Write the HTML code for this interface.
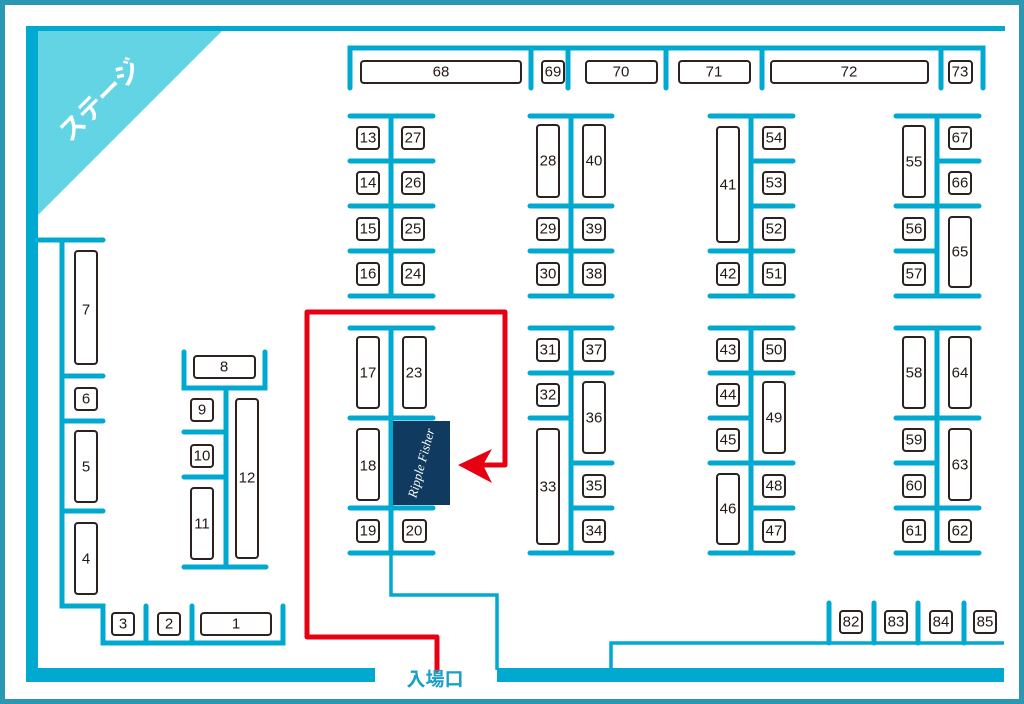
<!DOCTYPE html>
<html><head><meta charset="utf-8"><style>
html,body{margin:0;padding:0;background:#fff;}
svg{display:block;}
.b{fill:#fff;stroke:#2b211e;stroke-width:2;}
.t{font-family:"Liberation Sans",sans-serif;font-size:15px;fill:#231815;text-anchor:middle;dominant-baseline:central;}
.w{stroke:#00a9cf;stroke-width:5;stroke-linecap:round;fill:none;}
.tn{stroke:#00a9cf;stroke-width:3.5;fill:none;}
</style></head><body>
<svg width="1024" height="704" viewBox="0 0 1024 704" xmlns="http://www.w3.org/2000/svg">
<rect x="2.5" y="2.5" width="1019" height="699" fill="#fff" stroke="#2a97b3" stroke-width="5"/>
<rect x="26" y="26" width="12" height="656" fill="#00a9cf"/>
<rect x="26" y="26" width="979" height="5" fill="#00a9cf"/>
<rect x="26" y="668" width="349" height="14" fill="#00a9cf"/>
<rect x="497" y="668" width="507" height="14" fill="#00a9cf"/>
<polygon points="38,31 222,31 38,215" fill="#62d4e4"/>
<text x="100" y="100" transform="rotate(-45 100 100)" font-family="'Liberation Sans','Noto Sans CJK JP',sans-serif" font-size="26" font-weight="bold" fill="#fff" text-anchor="middle" dominant-baseline="central">ステージ</text>

<path class="w" d="M350,88 V48 H983 V88 M531,48 V88 M568,48 V88 M666,48 V88 M762,48 V88 M941,48 V88"/>

<path class="w" d="M38,240 H103 M62,240 V606 H103 V643 H283 V606 M146,643 V606 M192,643 V606 M62,376 H103 M62,421 H103 M62,511 H103"/>
<path class="w" d="M184,352 V388 H265 V352 M226,388 V567 M184,432 H226 M184,477 H226 M184,567 H266"/>

<path class="w" d="M391,116 V296 M350,116 H433 M350,161 H433 M350,206 H433 M350,251 H433 M350,296 H433"/>
<path class="w" d="M391,328 V553 M350,328 H433 M350,418 H433 M350,508 H433 M350,553 H433"/>
<path class="tn" d="M391,553 V595 H497 V670"/>
<path class="w" d="M571,116 V296 M530,116 H612 M530,206 H612 M530,251 H612 M530,296 H612"/>
<path class="w" d="M571,328 V553 M530,328 H612 M530,373 H612 M530,418 H571 M571,463 H612 M571,508 H612 M530,553 H612"/>
<path class="w" d="M751,116 V296 M710,116 H793 M751,161 H793 M751,206 H793 M710,251 H793 M710,296 H793"/>
<path class="w" d="M751,328 V553 M710,328 H793 M710,373 H793 M710,418 H751 M710,463 H793 M751,508 H793 M710,553 H793"/>
<path class="w" d="M937,116 V296 M896,116 H979 M937,161 H979 M896,206 H979 M896,251 H937 M896,296 H979"/>
<path class="w" d="M937,328 V553 M896,328 H979 M896,418 H979 M896,463 H937 M896,508 H979 M896,553 H979"/>

<path class="tn" d="M611,668 V643 H1004"/>
<path class="w" d="M829,643 V603 M874,643 V603 M918,643 V603 M964,643 V603"/>

<path d="M437,670 V637 H307 V312 H505 V465 H480" fill="none" stroke="#e60012" stroke-width="5" stroke-linejoin="round" stroke-linecap="round"/>
<polygon points="458,465 492,449 483,465 492,483" fill="#e60012"/>

<rect x="393" y="421" width="57" height="84" fill="#103a5f"/>
<text x="421" y="463" transform="rotate(-75 421 463)" font-family="'Liberation Serif',serif" font-style="italic" font-size="13" fill="#fff" text-anchor="middle" dominant-baseline="central">Ripple Fisher</text>

<g>
<rect class="b" x="361" y="61" width="160" height="22" rx="3"/><text class="t" x="441" y="72">68</text>
<rect class="b" x="542" y="61" width="22" height="22" rx="3"/><text class="t" x="553" y="72">69</text>
<rect class="b" x="586" y="61" width="71" height="22" rx="3"/><text class="t" x="621" y="72">70</text>
<rect class="b" x="679" y="61" width="71" height="22" rx="3"/><text class="t" x="714" y="72">71</text>
<rect class="b" x="771" y="61" width="157" height="22" rx="3"/><text class="t" x="849" y="72">72</text>
<rect class="b" x="949" y="61" width="23" height="22" rx="3"/><text class="t" x="960" y="72">73</text>

<rect class="b" x="357" y="127" width="22" height="22" rx="3"/><text class="t" x="368" y="138">13</text>
<rect class="b" x="402" y="127" width="22" height="22" rx="3"/><text class="t" x="413" y="138">27</text>
<rect class="b" x="357" y="172" width="22" height="22" rx="3"/><text class="t" x="368" y="183">14</text>
<rect class="b" x="402" y="172" width="22" height="22" rx="3"/><text class="t" x="413" y="183">26</text>
<rect class="b" x="357" y="218" width="22" height="22" rx="3"/><text class="t" x="368" y="229">15</text>
<rect class="b" x="402" y="218" width="22" height="22" rx="3"/><text class="t" x="413" y="229">25</text>
<rect class="b" x="357" y="263" width="22" height="22" rx="3"/><text class="t" x="368" y="274">16</text>
<rect class="b" x="402" y="263" width="22" height="22" rx="3"/><text class="t" x="413" y="274">24</text>

<rect class="b" x="357" y="337" width="22" height="71" rx="3"/><text class="t" x="368" y="373">17</text>
<rect class="b" x="403" y="337" width="23" height="71" rx="3"/><text class="t" x="414" y="373">23</text>
<rect class="b" x="357" y="429" width="22" height="71" rx="3"/><text class="t" x="368" y="466">18</text>
<rect class="b" x="357" y="520" width="22" height="22" rx="3"/><text class="t" x="368" y="531">19</text>
<rect class="b" x="403" y="520" width="23" height="22" rx="3"/><text class="t" x="414" y="531">20</text>

<rect class="b" x="537" y="125" width="22" height="72" rx="3"/><text class="t" x="548" y="161">28</text>
<rect class="b" x="583" y="125" width="22" height="72" rx="3"/><text class="t" x="594" y="161">40</text>
<rect class="b" x="537" y="218" width="22" height="22" rx="3"/><text class="t" x="548" y="229">29</text>
<rect class="b" x="583" y="218" width="22" height="22" rx="3"/><text class="t" x="594" y="229">39</text>
<rect class="b" x="537" y="263" width="22" height="22" rx="3"/><text class="t" x="548" y="274">30</text>
<rect class="b" x="583" y="263" width="22" height="22" rx="3"/><text class="t" x="594" y="274">38</text>
<rect class="b" x="537" y="339" width="22" height="22" rx="3"/><text class="t" x="548" y="350">31</text>
<rect class="b" x="583" y="339" width="22" height="22" rx="3"/><text class="t" x="594" y="350">37</text>
<rect class="b" x="537" y="384" width="22" height="22" rx="3"/><text class="t" x="548" y="395">32</text>
<rect class="b" x="583" y="382" width="22" height="71" rx="3"/><text class="t" x="594" y="418">36</text>
<rect class="b" x="537" y="429" width="22" height="115" rx="3"/><text class="t" x="548" y="487">33</text>
<rect class="b" x="583" y="475" width="22" height="22" rx="3"/><text class="t" x="594" y="486">35</text>
<rect class="b" x="583" y="520" width="22" height="22" rx="3"/><text class="t" x="594" y="531">34</text>

<rect class="b" x="717" y="127" width="22" height="115" rx="3"/><text class="t" x="728" y="185">41</text>
<rect class="b" x="763" y="127" width="22" height="22" rx="3"/><text class="t" x="774" y="138">54</text>
<rect class="b" x="763" y="172" width="22" height="22" rx="3"/><text class="t" x="774" y="183">53</text>
<rect class="b" x="763" y="218" width="22" height="22" rx="3"/><text class="t" x="774" y="229">52</text>
<rect class="b" x="717" y="263" width="22" height="22" rx="3"/><text class="t" x="728" y="274">42</text>
<rect class="b" x="763" y="263" width="22" height="22" rx="3"/><text class="t" x="774" y="274">51</text>
<rect class="b" x="717" y="339" width="22" height="22" rx="3"/><text class="t" x="728" y="350">43</text>
<rect class="b" x="763" y="339" width="22" height="22" rx="3"/><text class="t" x="774" y="350">50</text>
<rect class="b" x="717" y="384" width="22" height="22" rx="3"/><text class="t" x="728" y="395">44</text>
<rect class="b" x="763" y="382" width="22" height="71" rx="3"/><text class="t" x="774" y="418">49</text>
<rect class="b" x="717" y="429" width="22" height="22" rx="3"/><text class="t" x="728" y="440">45</text>
<rect class="b" x="717" y="474" width="22" height="70" rx="3"/><text class="t" x="728" y="509">46</text>
<rect class="b" x="763" y="475" width="22" height="22" rx="3"/><text class="t" x="774" y="486">48</text>
<rect class="b" x="763" y="520" width="22" height="22" rx="3"/><text class="t" x="774" y="531">47</text>

<rect class="b" x="903" y="126" width="22" height="71" rx="3"/><text class="t" x="914" y="162">55</text>
<rect class="b" x="949" y="127" width="22" height="22" rx="3"/><text class="t" x="960" y="138">67</text>
<rect class="b" x="949" y="172" width="22" height="22" rx="3"/><text class="t" x="960" y="183">66</text>
<rect class="b" x="903" y="218" width="22" height="22" rx="3"/><text class="t" x="914" y="229">56</text>
<rect class="b" x="949" y="217" width="22" height="70" rx="3"/><text class="t" x="960" y="252">65</text>
<rect class="b" x="903" y="263" width="22" height="22" rx="3"/><text class="t" x="914" y="274">57</text>
<rect class="b" x="903" y="337" width="22" height="71" rx="3"/><text class="t" x="914" y="373">58</text>
<rect class="b" x="949" y="337" width="22" height="71" rx="3"/><text class="t" x="960" y="373">64</text>
<rect class="b" x="903" y="429" width="22" height="22" rx="3"/><text class="t" x="914" y="440">59</text>
<rect class="b" x="949" y="429" width="22" height="71" rx="3"/><text class="t" x="960" y="465">63</text>
<rect class="b" x="903" y="475" width="22" height="22" rx="3"/><text class="t" x="914" y="486">60</text>
<rect class="b" x="903" y="520" width="22" height="22" rx="3"/><text class="t" x="914" y="531">61</text>
<rect class="b" x="949" y="520" width="22" height="22" rx="3"/><text class="t" x="960" y="531">62</text>

<rect class="b" x="75" y="251" width="22" height="113" rx="3"/><text class="t" x="86" y="310">7</text>
<rect class="b" x="75" y="388" width="22" height="22" rx="3"/><text class="t" x="86" y="399">6</text>
<rect class="b" x="75" y="431" width="22" height="71" rx="3"/><text class="t" x="86" y="467">5</text>
<rect class="b" x="75" y="523" width="22" height="71" rx="3"/><text class="t" x="86" y="559">4</text>
<rect class="b" x="112" y="613" width="22" height="22" rx="3"/><text class="t" x="123" y="624">3</text>
<rect class="b" x="158" y="613" width="22" height="22" rx="3"/><text class="t" x="169" y="624">2</text>
<rect class="b" x="201" y="613" width="70" height="22" rx="3"/><text class="t" x="236" y="624">1</text>
<rect class="b" x="194" y="356" width="61" height="22" rx="3"/><text class="t" x="224" y="367">8</text>
<rect class="b" x="191" y="399" width="22" height="22" rx="3"/><text class="t" x="202" y="410">9</text>
<rect class="b" x="191" y="445" width="22" height="22" rx="3"/><text class="t" x="202" y="456">10</text>
<rect class="b" x="191" y="488" width="22" height="71" rx="3"/><text class="t" x="202" y="524">11</text>
<rect class="b" x="236" y="399" width="22" height="159" rx="3"/><text class="t" x="247" y="478">12</text>

<rect class="b" x="840" y="611" width="22" height="22" rx="3"/><text class="t" x="851" y="622">82</text>
<rect class="b" x="885" y="611" width="22" height="22" rx="3"/><text class="t" x="896" y="622">83</text>
<rect class="b" x="930" y="611" width="22" height="22" rx="3"/><text class="t" x="941" y="622">84</text>
<rect class="b" x="974" y="611" width="22" height="22" rx="3"/><text class="t" x="985" y="622">85</text>
</g>
<text x="435" y="680" font-family="'Liberation Sans','Noto Sans CJK JP',sans-serif" font-size="19" font-weight="bold" fill="#1aa0c8" text-anchor="middle" dominant-baseline="central">入場口</text>
</svg>
</body></html>
